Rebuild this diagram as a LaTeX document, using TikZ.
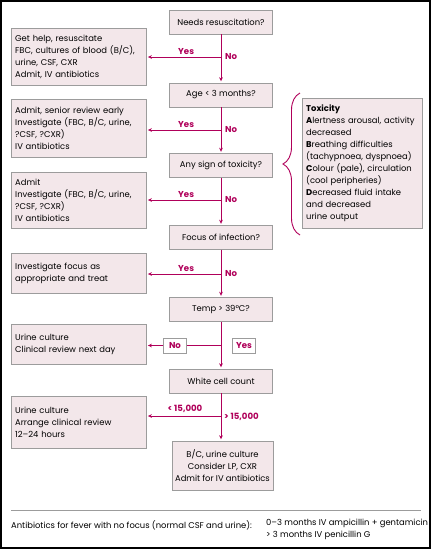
\documentclass[tikz,border=0pt]{standalone}
\usepackage{fontspec}
\setmainfont{Poppins}
\usetikzlibrary{arrows.meta, positioning, calc, decorations.pathreplacing}
\definecolor{flowred}{HTML}{B0005A}
\definecolor{boxfill}{HTML}{F3E7EA}
\definecolor{boxline}{HTML}{9C9C9C}

\begin{document}
\begin{tikzpicture}[x=1pt, y=-1pt, >={Stealth[length=4pt, width=3.6pt]},
  font=\fontsize{8.4}{11.9}\selectfont,
  decision/.style={draw=boxline, fill=boxfill, minimum width=103pt,
                   minimum height=24pt, inner sep=2pt},
  action/.style={draw=boxline, fill=boxfill, text width=127pt, align=left,
                 inner xsep=4pt, anchor=north west},
  flow/.style={->, flowred, line width=0.9pt, shorten >=1.5pt},
  answer/.style={text=flowred, font=\fontsize{8.6}{11}\selectfont\bfseries, inner sep=1pt},
  answerbox/.style={answer, draw=boxline, fill=white, inner sep=2pt,
                    minimum height=15pt, minimum width=23pt}]
  \useasboundingbox (0,0) rectangle (432,550);
  \draw[line width=2pt] (1,1) rectangle (430,548);

  % Questions down the middle
  \node[decision] (d1) at (221,22) {Needs resuscitation?};
  \node[decision] (d2) at (221,95) {Age < 3 months?};
  \node[decision] (d3) at (221,165.5) {Any sign of toxicity?};
  \node[decision] (d4) at (221,237.5) {Focus of infection?};
  \node[decision] (d5) at (221,309.5) {Temp > 39°C?};
  \node[decision] (d6) at (221,381) {White cell count};
  \node[decision, minimum width=101pt, minimum height=49pt, align=center]
    (bc) at (222.5,465.5) {B/C, urine culture\\Consider LP, CXR\\Admit for IV antibiotics};

  % Actions on the left
  \node[action, minimum height=57pt] (a1) at (11,28)
    {Get help, resuscitate\\FBC, cultures of blood (B/C),\\urine, CSF, CXR\\Admit, IV antibiotics};
  \node[action, minimum height=58pt] (a2) at (11,99)
    {Admit, senior review early\\Investigate (FBC, B/C, urine,\\?CSF, ?CXR)\\IV antibiotics};
  \node[action, minimum height=56pt] (a3) at (11,172)
    {Admit\\Investigate (FBC, B/C, urine,\\?CSF, ?CXR)\\IV antibiotics};
  \node[action, minimum height=40pt] (a4) at (11,253)
    {Investigate focus as\\appropriate and treat};
  \node[action, minimum height=40pt] (a5) at (11,324)
    {Urine culture\\Clinical review next day};
  \node[action, minimum height=52pt] (a6) at (11,396)
    {Urine culture\\Arrange clinical review\\12–24 hours};

  % Toxicity box and brace
  \node[action, text width=112pt, minimum height=130pt] (tox) at (302,98)
    {\textbf{Toxicity}\\\textbf{A}lertness arousal, activity\\decreased\\
     \textbf{B}reathing difficulties\\(tachypnoea, dyspnoea)\\
     \textbf{C}olour (pale), circulation\\(cool peripheries)\\
     \textbf{D}ecreased fluid intake\\and decreased\\urine output};
  \draw[flowred, line width=0.9pt, decorate, decoration={brace, amplitude=17pt}]
    (300,235) -- (300,93);

  % Main line
  \draw[flow] (d1) -- (d2);
  \draw[flow] (d2) -- (d3);
  \draw[flow] (d3) -- (d4);
  \draw[flow] (d4) -- (d5);
  \draw[flow] (d5) -- (d6);
  \draw[flow] (d6.south) -- (d6.south |- bc.north);

  % Yes branches
  \coordinate (j1) at (221,57);
  \coordinate (j2) at (221,130);
  \coordinate (j3) at (221,200);
  \coordinate (j4) at (221,274);
  \coordinate (j5) at (221,345.5);
  \coordinate (j6) at (221,416);
  \draw[flow] (j1) -- (j1 -| a1.east);
  \draw[flow] (j2) -- (j2 -| a2.east);
  \draw[flow] (j3) -- (j3 -| a3.east);
  \draw[flow] (j4) -- (j4 -| a4.east);
  \draw[flow] (j6) -- (j6 -| a6.east);
  \foreach \j in {1,2,3,4} {
    \node[answer, anchor=south west] (yes\j) at ($(j\j)+(-44,-1)$) {Yes};
    \node[answer, anchor=west] (no\j) at ($(j\j)+(3,0)$) {No};
  }

  % Temperature
  \node[answerbox] (no5) at (175,345.5) {No};
  \node[answerbox] (yes5) at (244,345.5) {Yes};
  \draw[flowred, line width=0.9pt] (j5) -- (no5);
  \draw[flow] (no5) -- (no5 -| a5.east);

  % White cell count
  \node[answer, anchor=south] (low) at (185,414) {< 15,000};
  \node[answer, anchor=west] (high) at (223,417) {> 15,000};

  % Footer
  \draw[boxline, line width=0.8pt] (11,510) -- (421,510);
  \node[anchor=west, inner sep=0pt] (fnote) at (11,525)
    {Antibiotics for fever with no focus (normal CSF and urine):};
  \node[anchor=north west, align=left, inner sep=0pt] (dose) at (266,519)
    {0–3 months IV ampicillin + gentamicin\\> 3 months IV penicillin G};
\end{tikzpicture}
\end{document}
